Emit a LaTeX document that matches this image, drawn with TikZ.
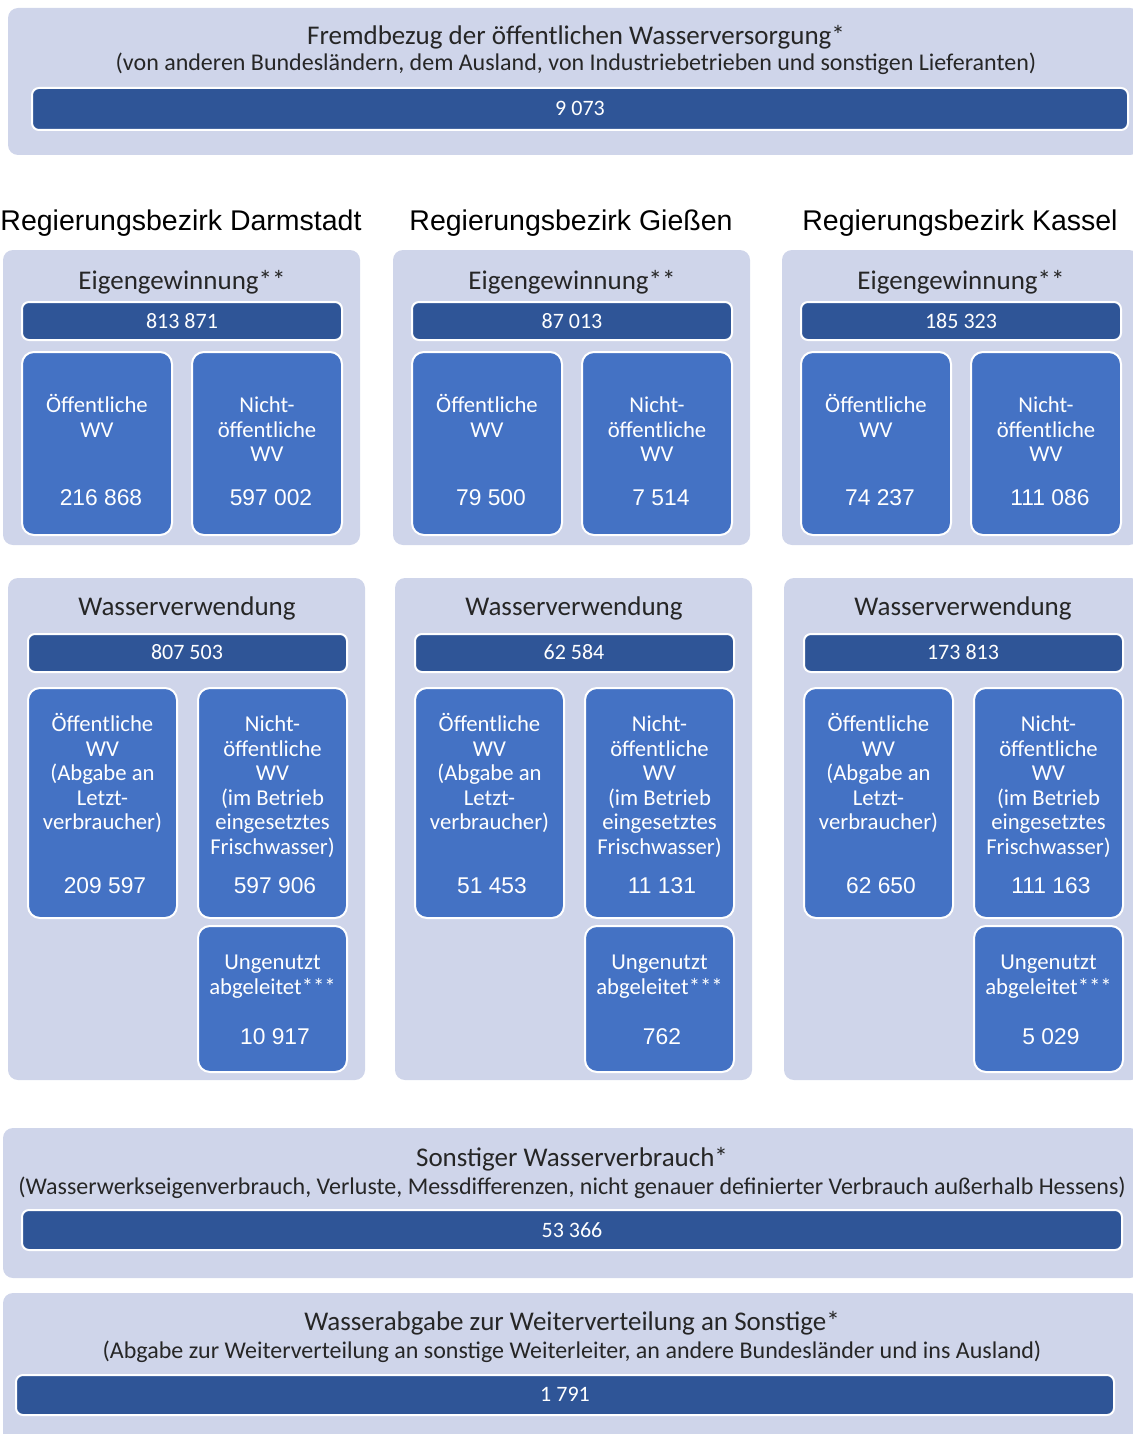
\documentclass[tikz,border=0pt]{standalone}
\usepackage{fontspec}
\setmainfont{Carlito}
\newfontfamily\arialfont{Liberation Sans}
\usepackage{xcolor}
\definecolor{panelbg}{HTML}{CFD5EA}
\definecolor{bardark}{HTML}{2F5597}
\definecolor{boxblue}{HTML}{4472C4}
\definecolor{textdark}{HTML}{262626}

\begin{document}
\begin{tikzpicture}[x=1pt,y=-1pt,
  panel/.style={fill=panelbg, rounded corners=10pt},
  bar/.style={fill=bardark, draw=white, line width=2pt, rounded corners=7pt},
  subbox/.style={fill=boxblue, draw=white, line width=2pt, rounded corners=12pt},
  title/.style={anchor=base, inner sep=0pt, text=textdark, font=\fontsize{27}{31}\selectfont},
  subtitle/.style={anchor=base, inner sep=0pt, text=textdark, font=\fontsize{24}{28}\selectfont},
  heading/.style={anchor=base, inner sep=0pt, text=black, font=\arialfont\fontsize{28.5}{32}\selectfont},
  barnum/.style={anchor=base, inner sep=0pt, text=white, font=\fontsize{22}{26}\selectfont},
  lbl/.style={anchor=base, inner sep=0pt, text=white, font=\fontsize{22.7}{24.5}\selectfont},
  num/.style={anchor=base, inner sep=0pt, text=white, font=\arialfont\fontsize{22.8}{26}\selectfont}]
\useasboundingbox (0,0) rectangle (1132,1434);

% Fremdbezug
\path[panel] (8,8) rectangle (1140,155);
\path[bar] (32,88) rectangle (1128,130);
\node[title] (fb) at (576,45) {Fremdbezug der öffentlichen Wasserversorgung*};
\node[subtitle] (fbsub) at (576,71) {(von anderen Bundesländern, dem Ausland, von Industriebetrieben und sonstigen Lieferanten)};
\node[barnum] (fbnum) at (580,116) {9 073};

% Regierungsbezirke
\foreach \xe/\xv/\region/\eg/\ega/\egb/\wv/\wva/\wvb/\ung [count=\c] in
  {3/8/Darmstadt/813 871/216 868/597 002/807 503/209 597/597 906/10 917,
   393/395/Gießen/87 013/79 500/7 514/62 584/51 453/11 131/762,
   782/784/Kassel/185 323/74 237/111 086/173 813/62 650/111 163/5 029} {
  \node[heading] (head\c) at ({\xe+178},230) {Regierungsbezirk \region};
  % Eigengewinnung
  \path[panel] (\xe,250) rectangle ({\xe+357},545);
  \path[bar] ({\xe+19},302) rectangle ({\xe+339},340);
  \path[subbox] ({\xe+19},352) rectangle ({\xe+169},535);
  \path[subbox] ({\xe+189},352) rectangle ({\xe+339},535);
  \node[title] (eg\c) at ({\xe+179},289) {Eigengewinnung**};
  \node[barnum] (egnum\c) at ({\xe+179},328) {\eg};
  \foreach \t [count=\k from 0] in {Öffentliche,WV}
    \node[lbl] (egA\c-\k) at ({\xe+94},{412.5+24.5*\k}) {\t};
  \foreach \t [count=\k from 0] in {Nicht-,öffentliche,WV}
    \node[lbl] (egB\c-\k) at ({\xe+264},{412.5+24.5*\k}) {\t};
  \node[num] (egAnum\c) at ({\xe+98},505) {\ega};
  \node[num] (egBnum\c) at ({\xe+268},505) {\egb};
  % Wasserverwendung
  \path[panel] (\xv,578) rectangle ({\xv+357},1080);
  \path[bar] ({\xv+20},634) rectangle ({\xv+339},672);
  \path[subbox] ({\xv+20},688) rectangle ({\xv+169},918);
  \path[subbox] ({\xv+190},688) rectangle ({\xv+339},918);
  \path[subbox] ({\xv+190},926) rectangle ({\xv+339},1072);
  \node[title] (wv\c) at ({\xv+179},615) {Wasserverwendung};
  \node[barnum] (wvnum\c) at ({\xv+179},659) {\wv};
  \foreach \t [count=\k from 0] in {Öffentliche,WV,{(Abgabe an},Letzt-,{verbraucher)}}
    \node[lbl] (wvA\c-\k) at ({\xv+94.5},{731.5+24.5*\k}) {\t};
  \foreach \t [count=\k from 0] in {Nicht-,öffentliche,WV,{(im Betrieb},eingesetztes,{Frischwasser)}}
    \node[lbl] (wvB\c-\k) at ({\xv+264.5},{731.5+24.5*\k}) {\t};
  \foreach \t [count=\k from 0] in {Ungenutzt,abgeleitet***}
    \node[lbl] (ung\c-\k) at ({\xv+264.5},{969.5+24.5*\k}) {\t};
  \node[num] (wvAnum\c) at ({\xv+97},893) {\wva};
  \node[num] (wvBnum\c) at ({\xv+267},893) {\wvb};
  \node[num] (ungnum\c) at ({\xv+267},1044) {\ung};
}

% Sonstiger Wasserverbrauch
\path[panel] (3,1128) rectangle (1140,1278);
\path[bar] (22,1210) rectangle (1122,1250);
\node[title] (sw) at (572,1166) {Sonstiger Wasserverbrauch*};
\node[subtitle] (swsub) at (572,1194) {(Wasserwerkseigenverbrauch, Verluste, Messdifferenzen, nicht genauer definierter Verbrauch außerhalb Hessens)};
\node[barnum] (swnum) at (572,1237) {53 366};

% Wasserabgabe
\path[panel] (3,1293) rectangle (1140,1450);
\path[bar] (16,1375) rectangle (1114,1415);
\node[title] (wa) at (572,1330) {Wasserabgabe zur Weiterverteilung an Sonstige*};
\node[subtitle] (wasub) at (572,1358) {(Abgabe zur Weiterverteilung an sonstige Weiterleiter, an andere Bundesländer und ins Ausland)};
\node[barnum] (wanum) at (565,1401) {1 791};
\end{tikzpicture}
\end{document}
